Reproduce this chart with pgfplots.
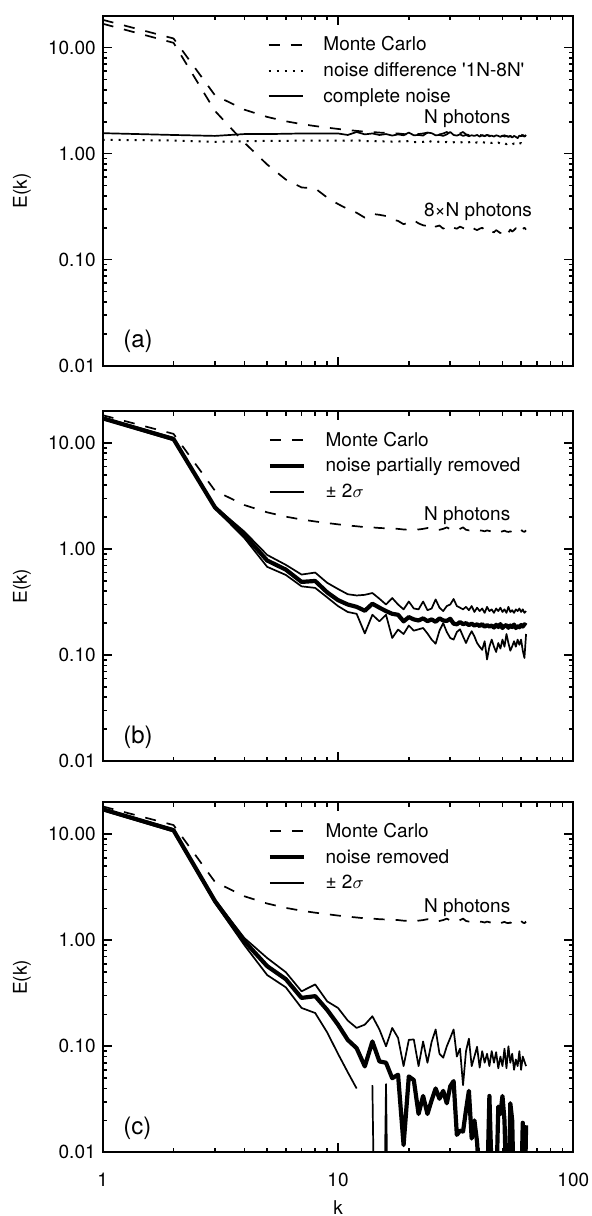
\documentclass[border=0pt]{standalone}
\usepackage{pgfplots}
\pgfplotsset{compat=1.18}
\usepackage{pgfplotstable}
\usepackage{fontspec}
\setmainfont{TeX Gyre Heros}[Ligatures=TeXOff]
\newcommand\fsz{\fontsize{9.5}{11.4}\selectfont}

\pgfplotstableread{
k mcn mc8 cn nd
1 18.3 16.8 1.56 1.35
2 12.2 11.1 1.50 1.33
3 3.55 2.53 1.47 1.29
4 2.60 1.27 1.53 1.31
5 2.22 0.79 1.53 1.32
6 2.02 0.57 1.54 1.32
7 1.90 0.48 1.55 1.33
8 1.82 0.47 1.55 1.33
9 1.76 0.385 1.55 1.33
10 1.71 0.335 1.55 1.33
11 1.67 0.300 1.50 1.32
12 1.64 0.277 1.60 1.34
13 1.61 0.249 1.52 1.31
14 1.60 0.270 1.55 1.32
15 1.58 0.265 1.50 1.30
16 1.57 0.258 1.53 1.31
17 1.56 0.240 1.48 1.30
18 1.55 0.232 1.52 1.31
19 1.53 0.216 1.49 1.29
20 1.52 0.224 1.58 1.32
21 1.56 0.235 1.49 1.28
22 1.53 0.220 1.50 1.30
23 1.55 0.211 1.48 1.29
24 1.58 0.208 1.58 1.34
25 1.53 0.220 1.56 1.29
26 1.50 0.205 1.49 1.28
27 1.52 0.210 1.50 1.30
28 1.55 0.196 1.47 1.27
29 1.60 0.205 1.52 1.29
30 1.54 0.210 1.60 1.26
31 1.51 0.200 1.50 1.28
32 1.50 0.196 1.48 1.30
33 1.55 0.205 1.52 1.27
34 1.60 0.199 1.47 1.29
35 1.52 0.193 1.50 1.26
36 1.50 0.198 1.46 1.28
37 1.49 0.204 1.49 1.30
38 1.51 0.195 1.47 1.25
39 1.48 0.190 1.50 1.28
40 1.50 0.196 1.45 1.26
41 1.49 0.200 1.49 1.29
42 1.47 0.192 1.46 1.27
43 1.50 0.189 1.50 1.25
44 1.48 0.195 1.46 1.28
45 1.46 0.185 1.48 1.26
46 1.48 0.181 1.45 1.27
47 1.50 0.190 1.49 1.24
48 1.47 0.184 1.47 1.27
49 1.45 0.178 1.44 1.25
50 1.47 0.188 1.48 1.28
51 1.49 0.196 1.45 1.25
52 1.46 0.187 1.47 1.23
53 1.45 0.180 1.44 1.26
54 1.47 0.192 1.46 1.24
55 1.44 0.184 1.42 1.22
56 1.46 0.190 1.47 1.25
57 1.45 0.198 1.44 1.22
58 1.44 0.186 1.40 1.21
59 1.46 0.192 1.48 1.24
60 1.52 0.185 1.46 1.26
61 1.47 0.195 1.50 1.23
62 1.45 0.200 1.47 1.25
63 1.50 0.192 1.46 1.27
}\tabA

\pgfplotstableread{
k pb pbu pbl
1 17.1 17.4 16.8
2 10.9 11.2 10.6
3 2.47 2.52 2.42
4 1.36 1.46 1.27
5 0.78 0.88 0.68
6 0.64 0.71 0.57
7 0.49 0.575 0.445
8 0.50 0.60 0.43
9 0.39 0.48 0.35
10 0.33 0.42 0.29
11 0.30 0.375 0.255
12 0.285 0.365 0.245
13 0.262 0.37 0.16
14 0.305 0.385 0.24
15 0.28 0.34 0.208
16 0.26 0.30 0.24
17 0.245 0.345 0.145
18 0.24 0.30 0.174
19 0.208 0.27 0.158
20 0.228 0.32 0.19
21 0.217 0.275 0.17
22 0.212 0.27 0.175
23 0.222 0.32 0.18
24 0.209 0.265 0.16
25 0.217 0.275 0.14
26 0.206 0.335 0.128
27 0.222 0.28 0.17
28 0.212 0.26 0.20
29 0.210 0.29 0.165
30 0.220 0.30 0.145
31 0.198 0.338 0.14
32 0.195 0.29 0.165
33 0.205 0.28 0.175
34 0.196 0.27 0.15
35 0.200 0.285 0.13
36 0.192 0.265 0.15
37 0.198 0.29 0.168
38 0.190 0.255 0.15
39 0.195 0.28 0.13
40 0.188 0.26 0.12
41 0.196 0.275 0.112
42 0.185 0.25 0.135
43 0.192 0.285 0.091
44 0.186 0.26 0.12
45 0.190 0.27 0.14
46 0.182 0.25 0.12
47 0.193 0.275 0.107
48 0.184 0.26 0.13
49 0.196 0.28 0.115
50 0.180 0.255 0.14
51 0.188 0.27 0.12
52 0.192 0.25 0.158
53 0.181 0.285 0.13
54 0.190 0.255 0.11
55 0.184 0.265 0.121
56 0.194 0.25 0.135
57 0.180 0.27 0.12
58 0.188 0.26 0.14
59 0.183 0.275 0.125
60 0.192 0.255 0.14
61 0.186 0.27 0.11
62 0.195 0.25 0.094
63 0.190 0.26 0.158
}\tabB

\pgfplotstableread{
k pc pcu pcl
1 17.2 17.4 16.8
2 10.9 11.2 10.6
3 2.34 2.40 2.25
4 0.98 1.05 0.90
5 0.57 0.68 0.47
6 0.43 0.50 0.36
7 0.286 0.33 0.23
8 0.297 0.383 0.206
9 0.22 0.265 0.135
10 0.16 0.23 0.085
11 0.115 0.175 0.057
12 0.096 0.149 0.040
13 0.0646 0.16 nan
14 0.111 0.192 0.043
15 0.072 0.144 0.000001
16 0.070 0.10 0.044
17 0.050 0.149 0.000001
18 0.054 0.12 nan
19 0.0117 0.065 nan
20 0.052 0.115 nan
21 0.048 0.116 nan
22 0.023 0.065 nan
23 0.034 0.111 nan
24 0.023 0.07 nan
25 0.031 0.11 nan
26 0.040 0.144 nan
27 0.032 0.085 nan
28 0.038 0.078 nan
29 0.029 0.10 nan
30 0.042 0.12 nan
31 0.047 0.144 nan
32 0.0146 0.08 nan
33 0.016 0.095 nan
34 0.0157 0.043 nan
35 0.025 0.09 nan
36 0.038 0.118 nan
37 0.0135 0.065 nan
38 0.020 0.08 nan
39 0.0125 0.099 nan
40 0.005 0.063 nan
41 0.004 0.09 nan
42 0.006 0.07 nan
43 0.004 0.085 nan
44 0.034 0.065 nan
45 0.006 0.09 nan
46 0.003 0.07 nan
47 0.004 0.088 nan
48 0.027 0.062 nan
49 0.023 0.08 nan
50 0.034 0.065 nan
51 0.020 0.095 nan
52 0.004 0.062 nan
53 0.003 0.10 nan
54 0.029 0.07 nan
55 0.020 0.085 nan
56 0.003 0.06 nan
57 0.004 0.075 nan
58 0.002 0.065 nan
59 0.003 0.09 nan
60 0.004 0.06 nan
61 0.019 0.08 nan
62 0.0025 0.072 nan
63 0.018 0.065 nan
}\tabC

\pgfplotsset{
  every axis/.append style={
    scale only axis, width=235.3pt, height=175pt,
    xmin=1, xmax=100, ymin=0.01, ymax=20,
    xtick={1,10,100}, ytick={0.01,0.1,1,10},
    yticklabels={0.01,0.10,1.00,10.00},
    minor xtick={2,3,4,5,6,7,8,9,20,30,40,50,60,70,80,90},
    minor ytick={0.02,0.03,0.04,0.05,0.06,0.07,0.08,0.09,0.2,0.3,0.4,0.5,0.6,0.7,0.8,0.9,2,3,4,5,6,7,8,9},
    tick pos=both, tick align=inside,
    major tick length=4.5pt, minor tick length=2.3pt,
    axis line style={line width=0.85pt},
    every tick/.style={black, line width=0.8pt},
    tick label style={font=\fsz},
    xticklabel style={anchor=center, yshift=-13.85pt},
    ylabel={E(k)},
    legend cell align=left,
    legend style={at={(0.3506,0.954)}, anchor=north west, draw=none, fill=none,
      inner sep=0pt, outer sep=0pt, row sep=0pt, column sep=7.8pt, font=\fsz,
      cells={anchor=west, inner sep=0pt, text height=7.4pt, text depth=2.6pt}},
    filter discard warning=false,
  },
  every axis y label/.style={at={(rel axis cs:-0.1715,0.5)}, rotate=90, anchor=center, font=\fsz},
  every axis x label/.style={at={(rel axis cs:0.5,-0.157)}, anchor=center, inner sep=0pt, font=\fsz},
  every axis plot/.append style={black, line width=0.85pt, line join=round},
  mcdash/.style={dash pattern=on 5.5pt off 5.5pt},
  ndot/.style={dash pattern=on 1pt off 3pt, line width=1pt},
  thickl/.style={line width=2.1pt},
}

\begin{document}
\begin{tikzpicture}
\useasboundingbox (0,0) rectangle (296pt,-608pt);

% ---- panel (a)
\begin{loglogaxis}[at={(51.35pt,-182.85pt)}, anchor=south west, xticklabels={,,}]
\addplot[mcdash] table[x=k,y=mcn]{\tabA};
\addlegendentry{Monte Carlo}
\addplot[ndot] table[x=k,y=nd]{\tabA};
\addlegendentry{noise difference '1N-8N'}
\addplot[solid] table[x=k,y=cn]{\tabA};
\addlegendentry{complete noise}
\addplot[mcdash, forget plot] table[x=k,y=mc8]{\tabA};
\node[anchor=west, inner sep=0pt, font=\fsz] at (rel axis cs:0.682,0.705) {N photons};
\node[anchor=west, inner sep=0pt, font=\fsz] at (rel axis cs:0.682,0.439) {8×N photons};
\node[anchor=west, inner sep=0pt, font=\fontsize{12}{14}\selectfont] at (rel axis cs:0.043,0.0686) {(a)};
\end{loglogaxis}

% ---- panel (b)
\begin{loglogaxis}[at={(51.35pt,-380.55pt)}, anchor=south west, xticklabels={,,}]
\addplot[mcdash] table[x=k,y=mcn]{\tabA};
\addlegendentry{Monte Carlo}
\addplot[thickl] table[x=k,y=pb]{\tabB};
\addlegendentry{noise partially removed}
\addplot[solid] table[x=k,y=pbu]{\tabB};
\addlegendentry{± 2$\sigma$}
\addplot[solid, forget plot] table[x=k,y=pbl]{\tabB};
\node[anchor=west, inner sep=0pt, font=\fsz] at (rel axis cs:0.682,0.702) {N photons};
\node[anchor=west, inner sep=0pt, font=\fontsize{12}{14}\selectfont] at (rel axis cs:0.043,0.0686) {(b)};
\end{loglogaxis}

% ---- panel (c)
\begin{loglogaxis}[at={(51.35pt,-576.15pt)}, anchor=south west,
  xticklabels={1,10,100}, xlabel={k}]
\addplot[mcdash] table[x=k,y=mcn]{\tabA};
\addlegendentry{Monte Carlo}
\addplot[thickl] table[x=k,y=pc]{\tabC};
\addlegendentry{noise removed}
\addplot[solid] table[x=k,y=pcu]{\tabC};
\addlegendentry{± 2$\sigma$}
\addplot[solid, forget plot, unbounded coords=jump] table[x=k,y=pcl]{\tabC};
\node[anchor=west, inner sep=0pt, font=\fsz] at (rel axis cs:0.682,0.70) {N photons};
\node[anchor=west, inner sep=0pt, font=\fontsize{12}{14}\selectfont] at (rel axis cs:0.043,0.0686) {(c)};
\end{loglogaxis}
\end{tikzpicture}
\end{document}
